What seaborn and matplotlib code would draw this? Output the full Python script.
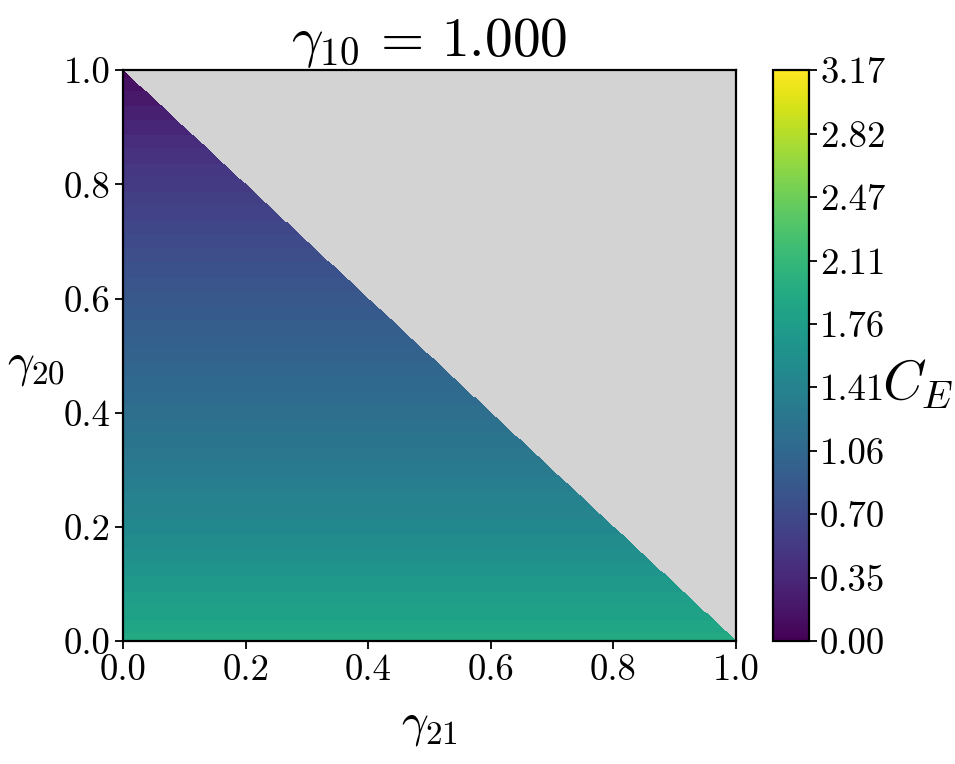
import numpy as np
import pandas as pd
import matplotlib
matplotlib.use("Agg")
import matplotlib.pyplot as plt
import seaborn as sns

# capacity C_E read along gamma_20 (it does not change with gamma_21)
gamma20_levels = [0.000, 0.025, 0.050, 0.075, 0.100, 0.125, 0.150, 0.175,
                  0.200, 0.225, 0.250, 0.275, 0.300, 0.325, 0.350, 0.375,
                  0.400, 0.425, 0.450, 0.475, 0.500, 0.525, 0.550, 0.575,
                  0.600, 0.625, 0.650, 0.675, 0.700, 0.725, 0.750, 0.775,
                  0.800, 0.825, 0.850, 0.875, 0.900, 0.925, 0.950, 0.975, 1.000]
ce_values = [1.93, 1.88, 1.82, 1.76, 1.70, 1.64, 1.58, 1.53,
             1.48, 1.43, 1.39, 1.34, 1.30, 1.26, 1.22, 1.18,
             1.14, 1.10, 1.07, 1.03, 1.00, 0.96, 0.93, 0.89,
             0.86, 0.82, 0.79, 0.75, 0.71, 0.67, 0.63, 0.59,
             0.54, 0.50, 0.45, 0.40, 0.34, 0.28, 0.21, 0.14, 0.05]
axis_ticks = [0.0, 0.2, 0.4, 0.6, 0.8, 1.0]
cbar_max = 3.17
title = r"$\gamma_{10} \,=\, 1.000$"

sns.set_style("ticks")
plt.rcParams["font.family"] = "serif"
plt.rcParams["font.serif"] = ["cmr10", "DejaVu Serif"]
plt.rcParams["mathtext.fontset"] = "cm"
plt.rcParams["axes.unicode_minus"] = False
plt.rcParams["axes.formatter.use_mathtext"] = True
for key in ["text.color", "axes.labelcolor", "xtick.color", "ytick.color",
            "xtick.labelcolor", "ytick.labelcolor"]:
    plt.rcParams[key] = "black"

# build the grid: each row takes the nearest read level, upper triangle masked
n = 600
centers = (np.arange(n) + 0.5) / n
lvl = np.rint(centers * (len(gamma20_levels) - 1)).astype(int)
row_vals = np.array(ce_values)[lvl]
grid = pd.DataFrame(np.repeat(row_vals[:, None], n, axis=1),
                    index=centers, columns=centers)
mask = centers[:, None] + centers[None, :] > 1.0

fig = plt.figure(figsize=(9.55, 7.64), dpi=100)
ax = fig.add_axes([0.1288, 0.161, 0.642, 0.747])
cax = fig.add_axes([0.8094, 0.161, 0.0377, 0.747])

sns.heatmap(grid, mask=mask, cmap="viridis", vmin=0, vmax=cbar_max,
            ax=ax, cbar_ax=cax, xticklabels=False, yticklabels=False)
ax.invert_yaxis()
ax.set_facecolor("lightgrey")

ax.set_xticks([t * n for t in axis_ticks])
ax.set_xticklabels([f"{t:.1f}" for t in axis_ticks], rotation=0)
ax.set_yticks([t * n for t in axis_ticks])
ax.set_yticklabels([f"{t:.1f}" for t in axis_ticks], rotation=0)
ax.tick_params(labelsize=26.5, length=6, width=1.3, color="black",
               labelcolor="black", pad=3)
for s in ax.spines.values():
    s.set_visible(True)
    s.set_linewidth(1.6)
    s.set_color("black")

ax.set_xlabel(r"$\gamma_{21}$", fontsize=34, labelpad=14)
ax.set_ylabel(r"$\gamma_{20}$", fontsize=34, rotation=0, ha="center", va="center")
ax.yaxis.set_label_coords(-0.142, 0.48)
ax.set_title(title, fontsize=40, pad=0)

cb = ax.collections[0].colorbar
cb.outline.set_linewidth(1.6)
cb.outline.set_edgecolor("black")
cb_ticks = np.linspace(0, cbar_max, 10)
cb.set_ticks(cb_ticks)
cb.set_ticklabels([f"{t:.2f}" for t in cb_ticks])
cax.tick_params(labelsize=26.5, length=6, width=1.3, color="black",
                labelcolor="black", pad=2)
cb.set_label(r"$C_E$", fontsize=40, rotation=0, ha="center", va="center")
cax.yaxis.set_label_coords(4.03, 0.45)

fig.savefig("out.png", dpi=100)
